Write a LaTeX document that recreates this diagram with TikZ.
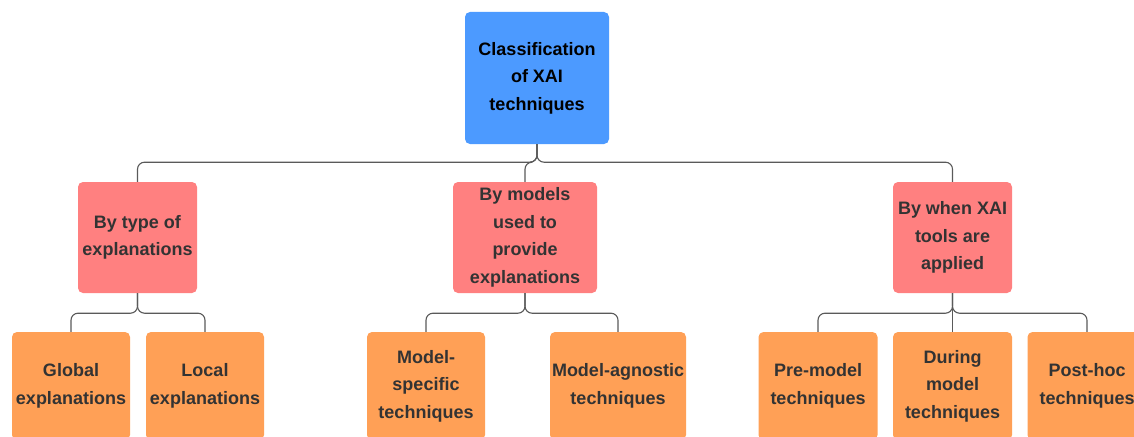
\documentclass[tikz,border=0pt]{standalone}
\usepackage{fontspec}
\setmainfont{Liberation Sans}
\definecolor{rootblue}{RGB}{76,154,255}
\definecolor{catpink}{RGB}{255,128,128}
\definecolor{leaforange}{RGB}{255,160,86}
\definecolor{txtgray}{RGB}{51,51,51}
\definecolor{linegray}{RGB}{90,90,90}
\tikzset{
  box/.style={rectangle, rounded corners=5pt, inner sep=0pt, align=center,
    font=\fontsize{18}{27.5}\selectfont\bfseries, text=txtgray},
  rootbox/.style={box, fill=rootblue, text=black, minimum width=144pt, minimum height=132pt},
  catbox/.style={box, fill=catpink, minimum height=111pt},
  leafbox/.style={box, fill=leaforange, minimum height=108pt},
  link/.style={draw=linegray, line width=1.1pt, rounded corners=7pt}
}
\begin{document}
\begin{tikzpicture}[x=1pt,y=-1pt]
\useasboundingbox (0,0) rectangle (1134,436);
\clip (0,0) rectangle (1134,436);
\fill[white] (0,0) rectangle (1134,436);
% root
\node[rootbox] (root) at (537,78) {Classification\\of XAI\\techniques};
% categories
\node[catbox, minimum width=119pt] (c1) at (137.5,237.5) {By type of\\explanations};
\node[catbox, minimum width=144pt] (c2) at (525,237.5) {By models\\used to\\provide\\explanations};
\node[catbox, minimum width=119pt] (c3) at (952.5,237.5) {By when XAI\\tools are\\applied};
% leaves
\node[leafbox, minimum width=118pt] (l1) at (71,386) {Global\\explanations};
\node[leafbox, minimum width=118pt] (l2) at (205,386) {Local\\explanations};
\node[leafbox, minimum width=118pt] (l3) at (426,386) {Model-\\specific\\techniques};
\node[leafbox, minimum width=136pt] (l4) at (618,386) {Model-agnostic\\techniques};
\node[leafbox, minimum width=119pt] (l5) at (818,386) {Pre-model\\techniques};
\node[leafbox, minimum width=119pt] (l6) at (952.5,386) {During\\model\\techniques};
\node[leafbox, minimum width=119pt] (l7) at (1087,386) {Post-hoc\\techniques};
% connectors root -> categories
\draw[link] (root.south) -- ++(0,18) -| (c1.north);
\draw[link] (root.south) -- ++(0,18) -| (c2.north);
\draw[link] (root.south) -- ++(0,18) -| (c3.north);
% category 1
\draw[link] (c1.south) -- ++(0,20) -| (l1.north);
\draw[link] (c1.south) -- ++(0,20) -| (l2.north);
% category 2
\draw[link] (c2.south) -- ++(0,20) -| (l3.north);
\draw[link] (c2.south) -- ++(0,20) -| (l4.north);
% category 3
\draw[link] (c3.south) -- ++(0,20) -| (l5.north);
\draw[link] (c3.south) -- (l6.north);
\draw[link] (c3.south) -- ++(0,20) -| (l7.north);
\end{tikzpicture}
\end{document}
